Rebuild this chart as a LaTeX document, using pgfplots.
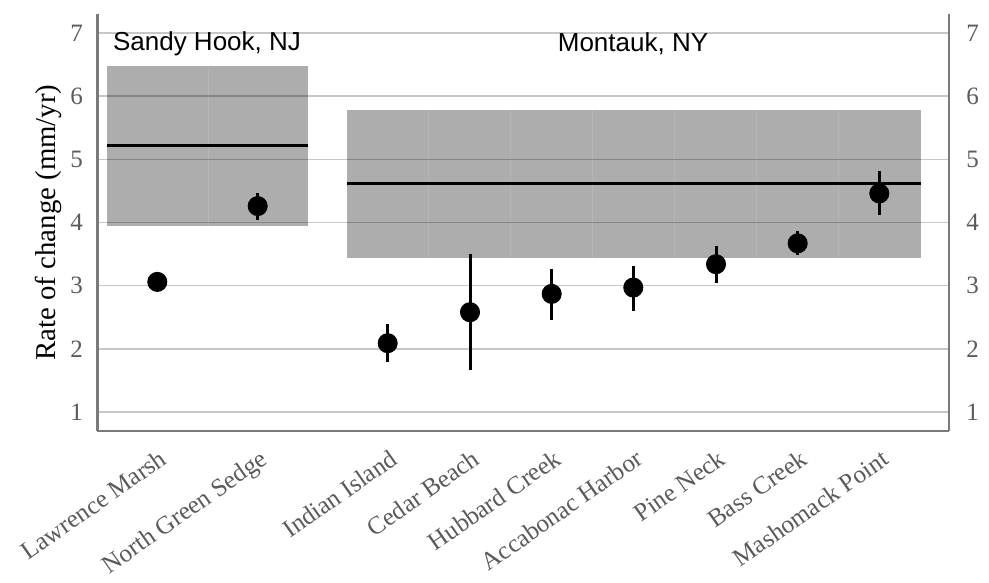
\documentclass[border=0pt]{standalone}
\usepackage{pgfplots}
\pgfplotsset{compat=1.18}
\usepackage{fontspec}
\setmainfont{Liberation Serif}
\newfontfamily\arial{Liberation Sans}
\definecolor{boxgray}{HTML}{ADADAD}
\definecolor{axgray}{HTML}{7A7A7A}
\definecolor{txtgray}{HTML}{5A5A5A}
\definecolor{divgray}{HTML}{B6B6B6}
\begin{document}
\begin{tikzpicture}
\pgfplotsset{
  common/.style={
    scale only axis, width=425.85bp, height=208.5bp,
    xmin=97.3, xmax=949, ymin=0.7, ymax=7.3,
    ytick={1,2,3,4,5,6,7},
    major tick length=0pt,
    /pgf/number format/assume math mode=true,
    axis line style={axgray, line width=1.3bp},
  }
}
\begin{axis}[common, name=ax, set layers, clip=false,
  axis x line*=bottom, axis y line*=left,
  yticklabel style={font=\fontsize{12.5bp}{14bp}\selectfont, text=txtgray, inner sep=0pt, anchor=east, xshift=-7bp},
  ymajorgrids, grid style={black, opacity=0.22, line width=0.8bp},
  xtick={157.3,257.7,387.7,470,551.7,633.3,716,797.7,879.3},
  xticklabels={Lawrence Marsh,North Green Sedge,Indian Island,Cedar Beach,Hubbard Creek,Accabonac Harbor,Pine Neck,Bass Creek,Mashomack Point},
  xticklabel style={font=\fontsize{12.6bp}{14bp}\selectfont, text=txtgray, inner sep=0pt, anchor=north east, xshift=0.5bp, yshift=-8.5bp, rotate=35},
]
% group envelopes
\addplot[fill=boxgray, draw=none, on layer=axis background] coordinates {(107.3,3.95) (308.3,3.95) (308.3,6.48) (107.3,6.48)} -- cycle;
\addplot[fill=boxgray, draw=none, on layer=axis background] coordinates {(346.7,3.44) (920.7,3.44) (920.7,5.78) (346.7,5.78)} -- cycle;
% faint category dividers
\addplot[divgray, line width=0.5bp, on layer=axis background] coordinates {(208.3,3.95) (208.3,6.48)};
\addplot[divgray, line width=0.5bp, on layer=axis background] coordinates {(428.9,3.44) (428.9,5.78)};
\addplot[divgray, line width=0.5bp, on layer=axis background] coordinates {(510.9,3.44) (510.9,5.78)};
\addplot[divgray, line width=0.5bp, on layer=axis background] coordinates {(592.5,3.44) (592.5,5.78)};
\addplot[divgray, line width=0.5bp, on layer=axis background] coordinates {(674.7,3.44) (674.7,5.78)};
\addplot[divgray, line width=0.5bp, on layer=axis background] coordinates {(756.9,3.44) (756.9,5.78)};
\addplot[divgray, line width=0.5bp, on layer=axis background] coordinates {(838.5,3.44) (838.5,5.78)};
% group means
\addplot[black, line width=1.5bp] coordinates {(107.3,5.22) (308.3,5.22)};
\addplot[black, line width=1.5bp] coordinates {(346.7,4.62) (920.7,4.62)};
% site rates with errors
\addplot[only marks, mark=*, mark size=4.8bp, black,
  error bars/.cd, y dir=both, y explicit, error mark=none,
  error bar style={black, line width=1.5bp}]
coordinates {
 (157.3,3.06) += (0,0) -= (0,0)
 (257.7,4.26) += (0,0.21) -= (0,0.22)
 (387.7,2.09) += (0,0.30) -= (0,0.30)
 (470,2.58) += (0,0.92) -= (0,0.92)
 (551.7,2.87) += (0,0.40) -= (0,0.41)
 (633.3,2.97) += (0,0.34) -= (0,0.37)
 (716,3.34) += (0,0.29) -= (0,0.30)
 (797.7,3.67) += (0,0.19) -= (0,0.19)
 (879.3,4.46) += (0,0.35) -= (0,0.34)
};
\node[font=\arial\fontsize{13bp}{15bp}\selectfont] at (axis cs:207,6.83) {Sandy Hook, NJ};
\node[font=\arial\fontsize{13bp}{15bp}\selectfont] at (axis cs:633,6.83) {Montauk, NY};
\node[rotate=90, font=\fontsize{14.4bp}{16bp}\selectfont] at (axis cs:48.5,4.0) {Rate of change (mm/yr)};
\end{axis}
\begin{axis}[common, axis y line*=right, axis x line=none, xtick=\empty,
  yticklabel style={font=\fontsize{12.5bp}{14bp}\selectfont, text=txtgray, inner sep=0pt, anchor=west, xshift=8.5bp}]
\end{axis}
\pgfresetboundingbox
\path ([xshift=-48.65bp,yshift=-76bp]ax.south west) rectangle ([xshift=-48.65bp+494.5bp,yshift=-76bp+291.5bp]ax.south west);
\end{tikzpicture}
\end{document}
